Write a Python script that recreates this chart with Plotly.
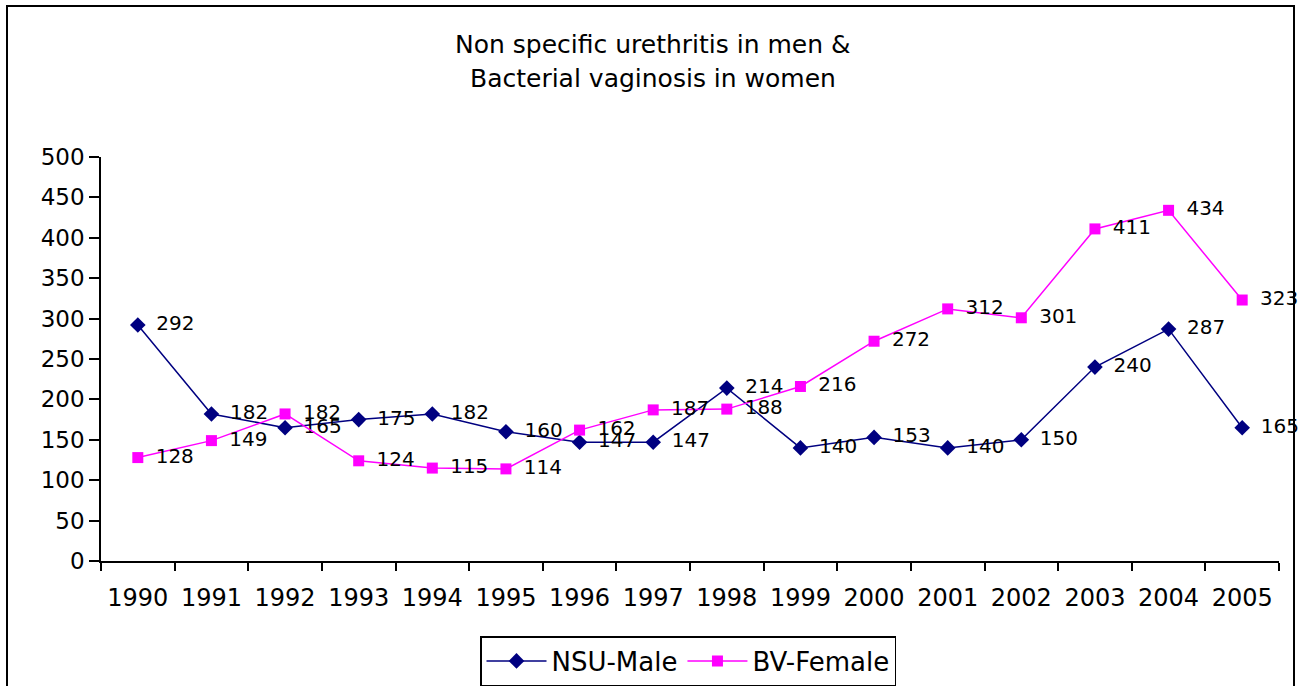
import plotly.graph_objects as go

years = ["1990", "1991", "1992", "1993", "1994", "1995", "1996", "1997",
         "1998", "1999", "2000", "2001", "2002", "2003", "2004", "2005"]
nsu_male = [292, 182, 165, 175, 182, 160, 147, 147, 214, 140, 153, 140, 150, 240, 287, 165]
bv_female = [128, 149, 182, 124, 115, 114, 162, 187, 188, 216, 272, 312, 301, 411, 434, 323]
y_ticks = [0, 50, 100, 150, 200, 250, 300, 350, 400, 450, 500]

FONT = "DejaVu Sans, Liberation Sans, Arial, sans-serif"

fig = go.Figure()
fig.add_trace(go.Scatter(
    x=years, y=nsu_male, name="NSU-Male", mode="lines+markers+text",
    line=dict(color="#000080", width=1.5),
    marker=dict(symbol="diamond", size=12, color="#000080"),
    texttemplate="\u2002%{y}", textposition="middle right",
    textfont=dict(family=FONT, size=20, color="black"),
    cliponaxis=False,
))
fig.add_trace(go.Scatter(
    x=years, y=bv_female, name="BV-Female", mode="lines+markers+text",
    line=dict(color="#FF00FF", width=1.5),
    marker=dict(symbol="square", size=11, color="#FF00FF"),
    texttemplate="\u2002%{y}", textposition="middle right",
    textfont=dict(family=FONT, size=20, color="black"),
    cliponaxis=False,
))

L, R, T, B = 101, 1301 - 1279, 157, 686 - 561
pw, ph = 1301 - L - R, 686 - T - B

def px(x):
    return (x - L) / pw

def py(y):
    return (686 - B - y) / ph

fig.update_layout(
    width=1301, height=686,
    margin=dict(l=L, r=R, t=T, b=B, pad=0, autoexpand=False),
    paper_bgcolor="white", plot_bgcolor="white",
    font=dict(family=FONT, size=20, color="black"),
    showlegend=True,
    legend=dict(
        orientation="h", x=px(688), xanchor="center", y=py(661), yanchor="middle",
        bordercolor="black", borderwidth=1.5, bgcolor="white",
        font=dict(family=FONT, size=26, color="black"),
        itemwidth=60, tracegroupgap=0,
    ),
    xaxis=dict(
        type="category", range=[-0.5, 15.5],
        showline=True, linecolor="black", linewidth=1.5,
        ticks="outside", tickson="boundaries", ticklen=8, tickcolor="black", tickwidth=1.5,
        showgrid=False, zeroline=False,
        tickfont=dict(family=FONT, size=24, color="black"),
        ticklabelstandoff=14,
    ),
    yaxis=dict(
        range=[0, 500], tickvals=y_ticks,
        showline=True, linecolor="black", linewidth=1.5,
        ticks="outside", ticklen=10, tickcolor="black", tickwidth=1.5,
        showgrid=False, zeroline=False,
        tickfont=dict(family=FONT, size=23, color="black"),
    ),
    annotations=[
        dict(text="Non specific urethritis in men &", xref="paper", yref="paper",
             x=px(653), y=py(45), xanchor="center", yanchor="middle", showarrow=False,
             font=dict(family=FONT, size=25, color="black")),
        dict(text="Bacterial vaginosis in women", xref="paper", yref="paper",
             x=px(653), y=py(78), xanchor="center", yanchor="middle", showarrow=False,
             font=dict(family=FONT, size=25, color="black")),
    ],
    shapes=[
        dict(type="rect", xref="paper", yref="paper",
             x0=px(7), x1=px(1294), y0=py(700), y1=py(6),
             line=dict(color="black", width=2), fillcolor="rgba(0,0,0,0)", layer="below"),
    ],
)

fig.write_html("out.html", config={"displayModeBar": False},
               post_script="document.body.style.margin='0';document.body.style.overflow='hidden';")
